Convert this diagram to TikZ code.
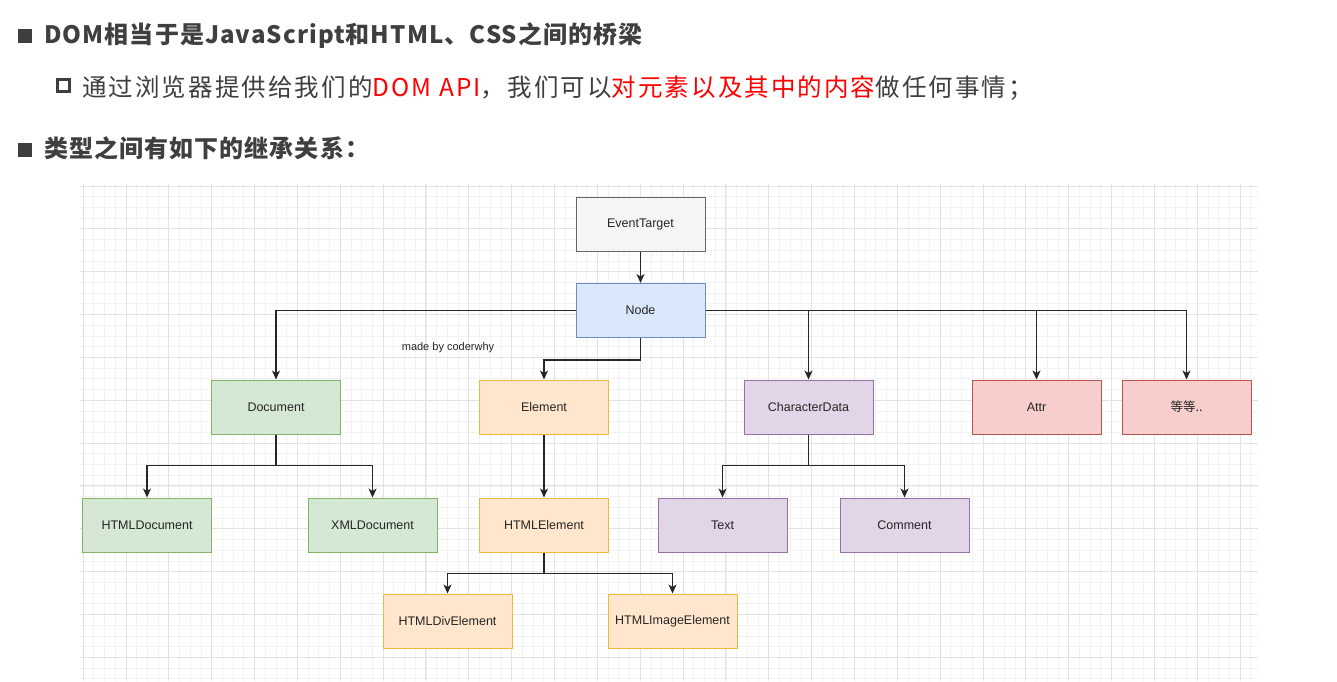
\documentclass[tikz,border=0pt]{standalone}
\usepackage{fontspec}
\setmainfont{Liberation Sans}
\newfontfamily\cjk{Noto Sans CJK SC}
\newfontfamily\cjkA[LetterSpace=4.5]{Noto Sans CJK SC}
\newfontfamily\cjkB[LetterSpace=8.5]{Noto Sans CJK SC}
\usetikzlibrary{arrows.meta}
\definecolor{txt}{HTML}{3F3F3F}
\definecolor{gminor}{HTML}{F2F2F2}
\definecolor{gmajor}{HTML}{E2E2E2}
\definecolor{grayf}{HTML}{F5F5F5}\definecolor{grayd}{HTML}{666666}
\definecolor{bluef}{HTML}{DAE8FC}\definecolor{blued}{HTML}{6C8EBF}
\definecolor{greenf}{HTML}{D5E8D4}\definecolor{greend}{HTML}{82B366}
\definecolor{orangef}{HTML}{FFE6CC}\definecolor{oranged}{HTML}{EDBA3A}
\definecolor{purplef}{HTML}{E1D5E7}\definecolor{purpled}{HTML}{9673A6}
\definecolor{redf}{HTML}{F8CECC}\definecolor{redd}{HTML}{B85450}
\tikzset{
  box/.style={draw, line width=1pt, minimum width=129pt, minimum height=54pt, inner sep=0pt, font=\fontsize{12.5}{14}\selectfont, text=black!85},
  grayb/.style={box, fill=grayf, draw=grayd},
  blueb/.style={box, fill=bluef, draw=blued},
  greenb/.style={box, fill=greenf, draw=greend},
  orangeb/.style={box, fill=orangef, draw=oranged},
  purpleb/.style={box, fill=purplef, draw=purpled},
  redb/.style={box, fill=redf, draw=redd},
  conn/.style={draw=black!85, line width=1.1pt, -{Stealth[length=9pt,width=8pt,inset=2.5pt]}},
  heading/.style={anchor=base west, inner sep=0pt, text=txt},
}
\begin{document}
\begin{tikzpicture}[x=1pt,y=-1pt]
\useasboundingbox (0,0) rectangle (1337,681);
\fill[white] (0,0) rectangle (1337,681);
% grid
\begin{scope}
\clip (80,184) rectangle (1258,681);
\foreach \i in {-5,...,110} {
  \draw[gminor, line width=0.8pt] ({126+10.7125*\i},184) -- ({126+10.7125*\i},681);
  \draw[gminor, line width=0.8pt] (80,{186+10.7125*\i}) -- (1258,{186+10.7125*\i});
}
\foreach \i in {-1,...,27} {
  \draw[gmajor, line width=1pt] ({126+42.85*\i},184) -- ({126+42.85*\i},681);
  \draw[gmajor, line width=1pt] (80,{186+42.85*\i}) -- (1258,{186+42.85*\i});
}
\end{scope}
% header
\fill[txt] (18,29) rectangle (32,43);
\node[heading, font=\cjkA\bfseries\fontsize{24}{28}\selectfont] (t1) at (44,43) {DOM相当于是JavaScript和HTML、CSS之间的桥梁};
\draw[txt, line width=3.4pt] (57.7,79.7) rectangle (69.3,91.3);
\node[heading, font=\cjkB\fontsize{24.5}{28}\selectfont] (t2) at (82,96) {通过浏览器提供给我们的\textcolor{red}{DOM API}，我们可以\textcolor{red}{对元素以及其中的内容}做任何事情；};
\fill[txt] (18,143) rectangle (32,157);
\node[heading, font=\cjkA\bfseries\fontsize{24}{28}\selectfont] (t3) at (44,157) {类型之间有如下的继承关系：};
% nodes
\node[grayb] (et) at (640.5,224) {EventTarget};
\node[blueb] (nd) at (640.5,310.5) {Node};
\node[greenb] (doc) at (276,407) {Document};
\node[orangeb] (el) at (544,407) {Element};
\node[purpleb] (cd) at (808.5,407) {CharacterData};
\node[redb] (attr) at (1036.5,407) {Attr};
\node[redb] (etc) at (1186.5,407) {\cjk 等等..};
\node[greenb] (hd) at (147,525) {HTMLDocument};
\node[greenb] (xd) at (372.5,525) {XMLDocument};
\node[orangeb] (he) at (544,525) {HTMLElement};
\node[purpleb] (tx) at (722.5,525) {Text};
\node[purpleb] (cm) at (904.5,525) {Comment};
\node[orangeb] (hdiv) at (447.5,621) {HTMLDivElement};
\node[orangeb] (himg) at (672.5,621) {HTMLImageElement};
\node[font=\fontsize{11}{13}\selectfont, text=black!85] (mb) at (448,348) {made by coderwhy};
% connectors
\draw[conn] (et) -- (nd);
\draw[conn] (nd.west) -| (doc.north);
\draw[conn] (nd.east) -| (cd.north);
\draw[conn] (nd.east) -| (attr.north);
\draw[conn] (nd.east) -| (etc.north);
\draw[conn] (nd.south) -- ++(0,22) -| (el.north);
\draw[conn] (doc.south) -- ++(0,31) -| (hd.north);
\draw[conn] (doc.south) -- ++(0,31) -| (xd.north);
\draw[conn] (el) -- (he);
\draw[conn] (cd.south) -- ++(0,31) -| (tx.north);
\draw[conn] (cd.south) -- ++(0,31) -| (cm.north);
\draw[conn] (he.south) -- ++(0,21) -| (hdiv.north);
\draw[conn] (he.south) -- ++(0,21) -| (himg.north);
\end{tikzpicture}
\end{document}
